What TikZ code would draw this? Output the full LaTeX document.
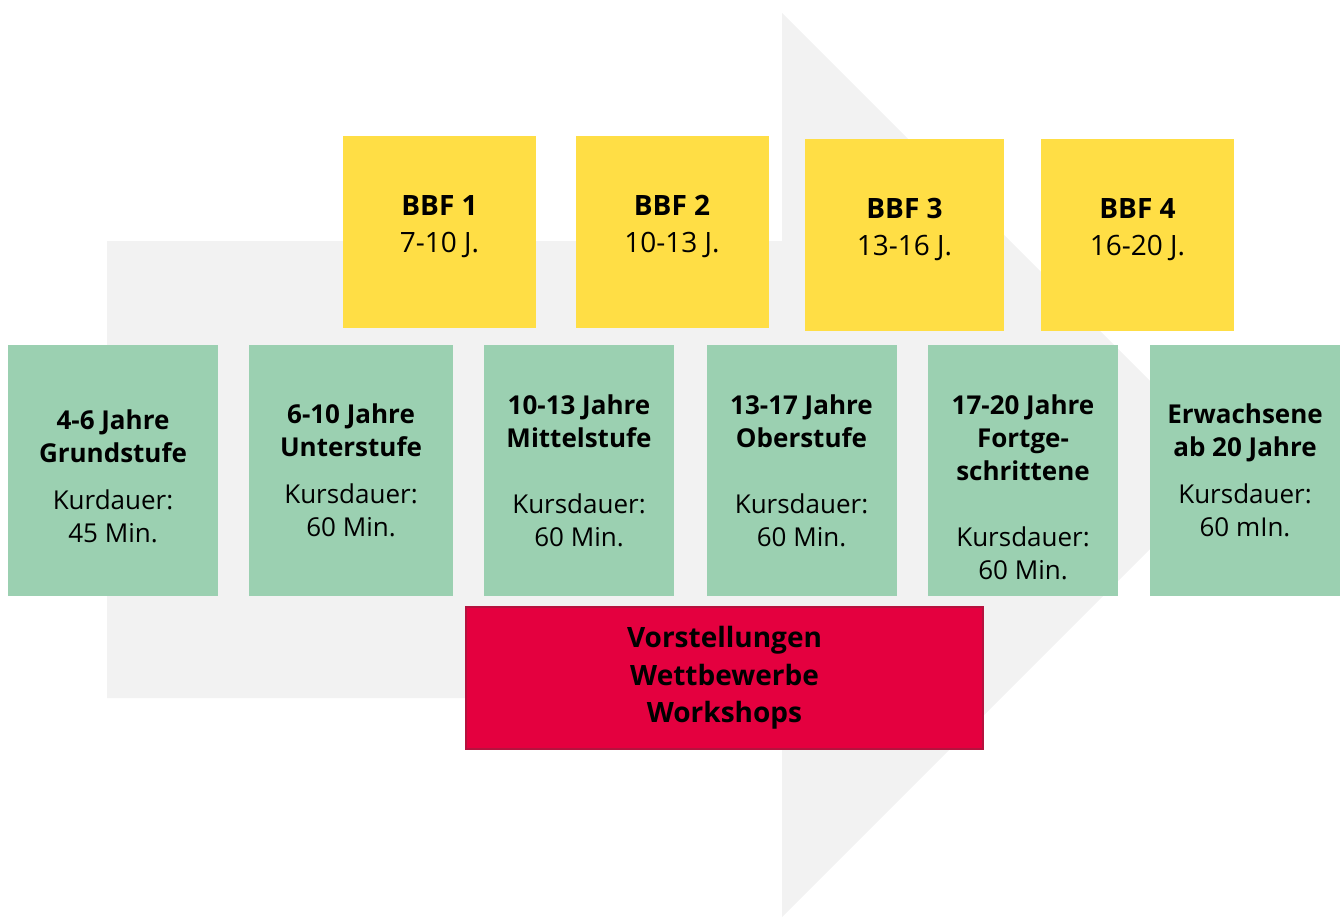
\documentclass[tikz,border=0pt]{standalone}
\usepackage{fontspec}
\setmainfont{Open Sans}
\definecolor{arrowgrey}{HTML}{F2F2F2}
\definecolor{bbfyellow}{HTML}{FFDE45}
\definecolor{agegreen}{HTML}{9BD0B1}
\definecolor{showred}{HTML}{E4003F}
\definecolor{showedge}{HTML}{B5123E}

\begin{document}
\begin{tikzpicture}[x=1pt, y=-1pt]

\tikzset{%
every node/.style={align=center, inner sep=0pt, font=\fontsize{26}{33}\selectfont, node distance=232.5pt}%
}

\tikzstyle{bbf}=[fill=bbfyellow, minimum width=193pt, minimum height=192pt, font=\fontsize{28}{37}\selectfont]
\tikzstyle{age}=[fill=agegreen, minimum width=190pt, minimum height=251pt]
\tikzstyle{extra}=[fill=showred, draw=showedge, line width=1.5pt, minimum width=517pt, minimum height=142pt, font=\fontsize{28}{37.5}\selectfont\bfseries]

\useasboundingbox (0,0) rectangle (1340,918);

% big arrow in the back
\fill[arrowgrey] (107,241) -- (782,241) -- (782,13) -- (1234,465) -- (782,917) -- (782,698) -- (107,698) -- cycle;


\node[bbf] (bbf1) at (439.5,232) {\textbf{BBF 1}\\7-10 J.\rule[-16pt]{0pt}{0pt}};
\node[bbf, right of=bbf1] (bbf2) {\textbf{BBF 2}\\10-13 J.\rule[-16pt]{0pt}{0pt}};
\node[bbf, right of=bbf2, yshift=-3pt, minimum width=199pt] (bbf3) {\textbf{BBF 3}\\13-16 J.\rule[-16pt]{0pt}{0pt}};
\node[bbf, right of=bbf3, node distance=233pt] (bbf4) {\textbf{BBF 4}\\16-20 J.\rule[-16pt]{0pt}{0pt}};


\node[age, minimum width=210pt] (g4-6) at (113,470.5) {\rule{0pt}{31pt}\textbf{4-6 Jahre}\\\textbf{Grundstufe}\\[14pt]Kurdauer:\\45 Min.};
\node[age, right of=g4-6, node distance=238pt, minimum width=204pt] (g6-10) {\textbf{6-10 Jahre}\\\textbf{Unterstufe}\\[14pt]Kursdauer:\\60 Min.};
\node[age, right of=g6-10, node distance=228pt] (g10-13) {\textbf{10-13 Jahre}\\\textbf{Mittelstufe}\\[33pt]Kursdauer:\\60 Min.};
\node[age, right of=g10-13, node distance=222.5pt] (g13-17) {\textbf{13-17 Jahre}\\\textbf{Oberstufe}\\[33pt]Kursdauer:\\60 Min.};
\node[age, right of=g13-17, node distance=221.5pt] (g17-20) {\rule{0pt}{53pt}\textbf{17-20 Jahre}\\\textbf{Fortge-}\\\textbf{schrittene}\\[33pt]Kursdauer:\\60 Min.};
\node[age, right of=g17-20, node distance=222pt] (g20) {\textbf{Erwachsene}\\\textbf{ab 20 Jahre}\\[14pt]Kursdauer:\\60 mIn.};


\node[extra] (extra) at (724.5,678) {Vorstellungen\\Wettbewerbe\\Workshops};

\end{tikzpicture}
\end{document}
